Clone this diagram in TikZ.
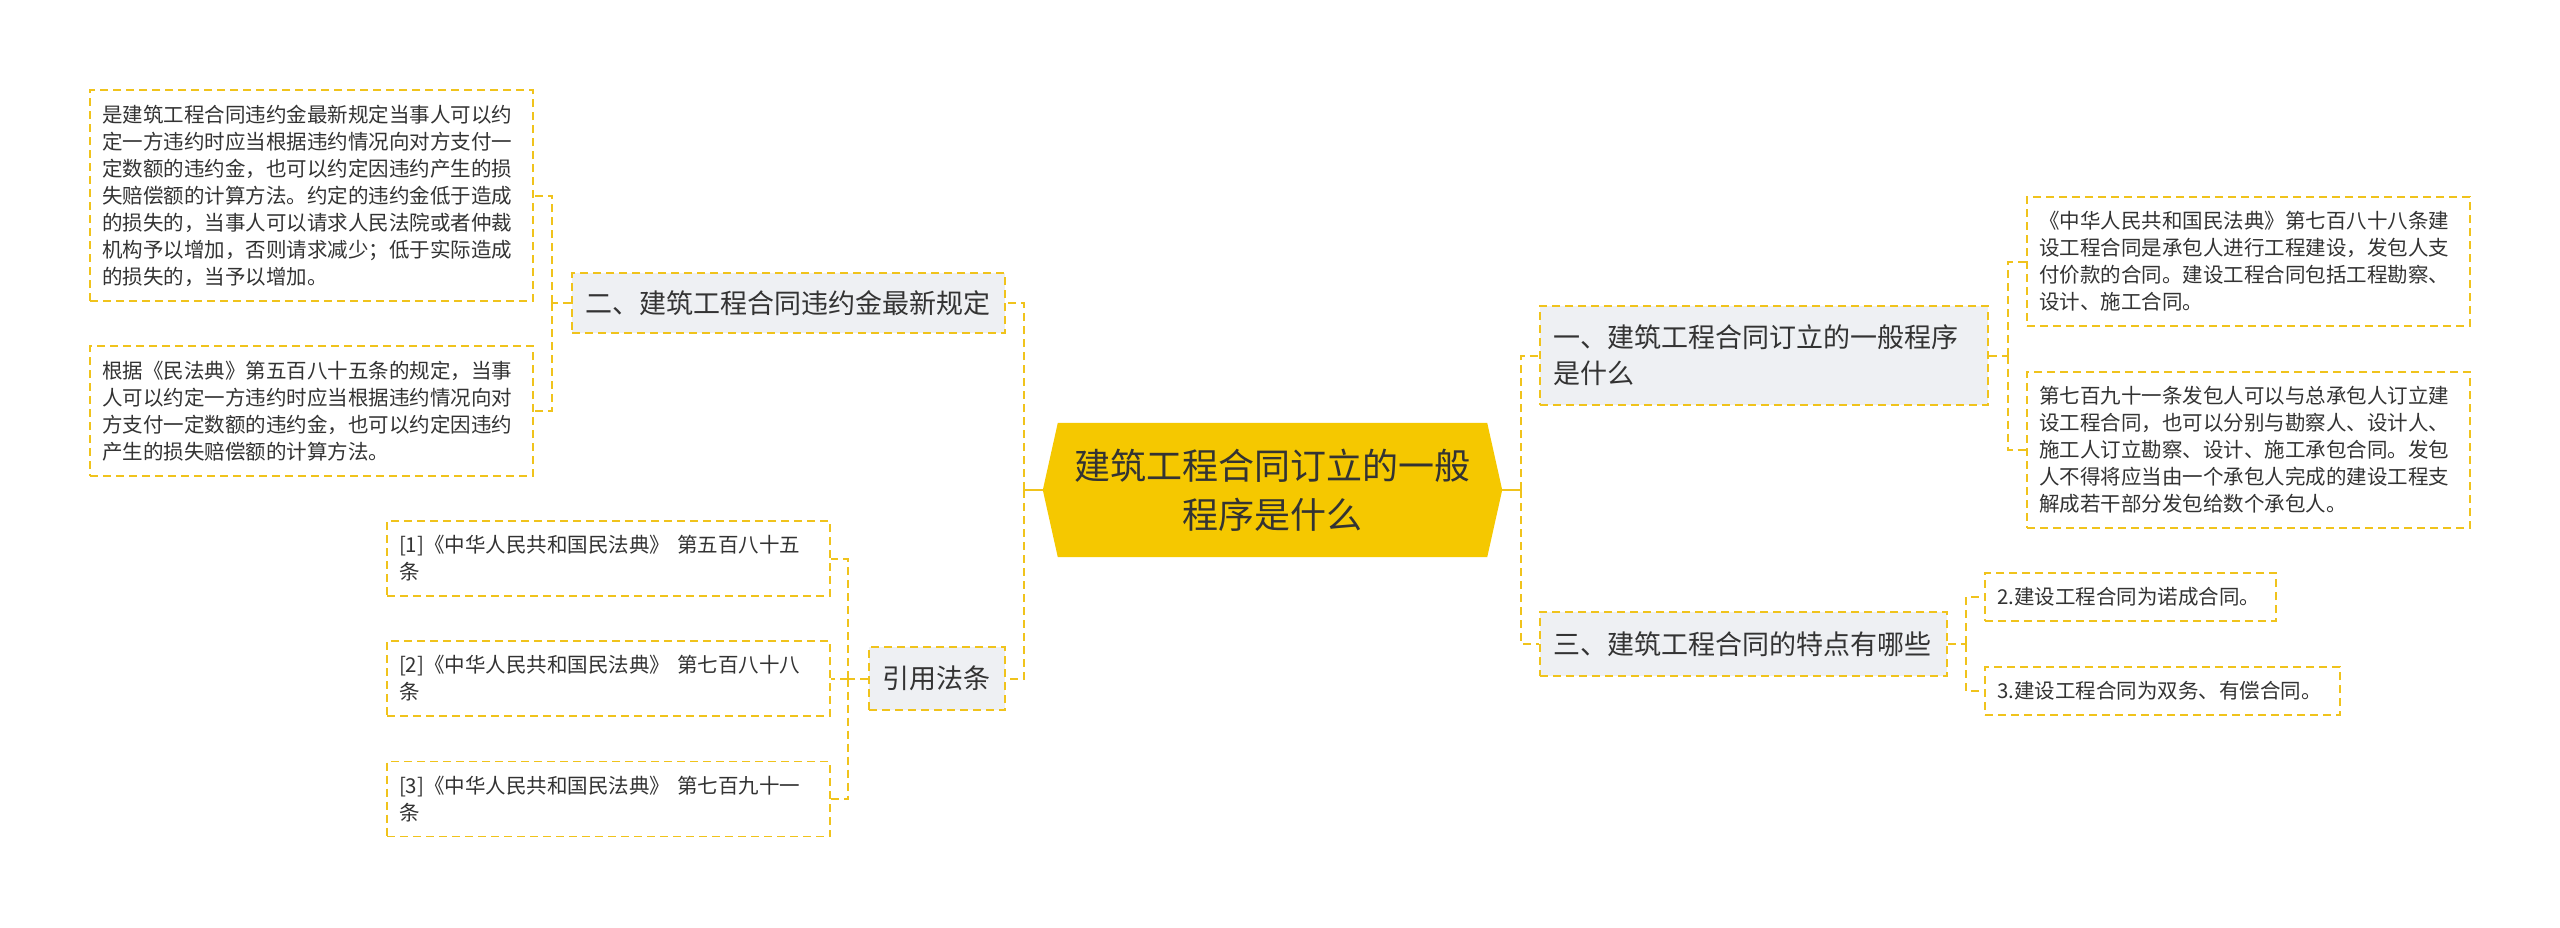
\documentclass[tikz,border=0pt]{standalone}
\usepackage{fontspec}
\setmainfont{Noto Sans CJK SC}
\usetikzlibrary{backgrounds}
\definecolor{gold}{HTML}{F0C31C}
\definecolor{rootgold}{HTML}{F5C800}
\definecolor{boxgray}{HTML}{EEF0F3}
\definecolor{txt}{HTML}{333333}
\tikzset{
  box/.style={draw=gold, line width=1.8pt, dash pattern=on 8pt off 5pt, inner xsep=12pt, inner ysep=0pt, align=left, text=txt},
  leaf/.style={box, fill=white, font=\fontsize{20.5}{27}\selectfont},
  branch/.style={box, fill=boxgray, inner xsep=13pt, font=\fontsize{27}{36}\selectfont},
  conn/.style={draw=gold, line width=2pt, dash pattern=on 8pt off 5pt},
  rootline/.style={draw=gold, line width=2.5pt},
}
\begin{document}
\begin{tikzpicture}[x=1pt,y=-1pt]
\useasboundingbox (0,0) rectangle (2560,927);

% root
\node[font=\fontsize{36}{49}\selectfont, text=txt, align=center, minimum width=459pt, minimum height=134pt, inner sep=0pt] (root) at (1272.5,490) {建筑工程合同订立的一般\\程序是什么};
\begin{pgfonlayer}{background}
\fill[white] (0,0) rectangle (2560,927);
\fill[rootgold] (root.west) -- ([xshift=15pt]root.north west) -- ([xshift=-15pt]root.north east) -- (root.east) -- ([xshift=-15pt]root.south east) -- ([xshift=15pt]root.south west) -- cycle;
\end{pgfonlayer}

% branches
\node[branch, text width=407pt, minimum height=60pt] (b2) at (788.5,303) {二、建筑工程合同违约金最新规定};
\node[branch, text width=110pt, minimum height=63pt] (b4) at (937,678.5) {引用法条};
\node[branch, text width=422pt, minimum height=99pt] (b1) at (1764,355.5) {一、建筑工程合同订立的一般程序\\是什么};
\node[branch, text width=381pt, minimum height=64pt] (b3) at (1743.5,644) {三、建筑工程合同的特点有哪些};

% left leaves
\node[leaf, text width=419pt, minimum height=211pt] (L1) at (311.5,195.5) {是建筑工程合同违约金最新规定当事人可以约\\定一方违约时应当根据违约情况向对方支付一\\定数额的违约金，也可以约定因违约产生的损\\失赔偿额的计算方法。约定的违约金低于造成\\的损失的，当事人可以请求人民法院或者仲裁\\机构予以增加，否则请求减少；低于实际造成\\的损失的，当予以增加。};
\node[leaf, text width=419pt, minimum height=130pt] (L2) at (311.5,411) {根据《民法典》第五百八十五条的规定，当事\\人可以约定一方违约时应当根据违约情况向对\\方支付一定数额的违约金，也可以约定因违约\\产生的损失赔偿额的计算方法。};

\node[leaf, text width=419pt, minimum height=75pt] (C1) at (608.5,558.5) {[1]《中华人民共和国民法典》 第五百八十五\\条};
\node[leaf, text width=419pt, minimum height=75pt] (C2) at (608.5,678.5) {[2]《中华人民共和国民法典》 第七百八十八\\条};
\node[leaf, text width=419pt, minimum height=75pt] (C3) at (608.5,799) {[3]《中华人民共和国民法典》 第七百九十一\\条};

% right leaves
\node[leaf, text width=419pt, minimum height=129pt] (R1) at (2248.5,261.5) {《中华人民共和国民法典》第七百八十八条建\\设工程合同是承包人进行工程建设，发包人支\\付价款的合同。建设工程合同包括工程勘察、\\设计、施工合同。};
\node[leaf, text width=419pt, minimum height=156pt] (R2) at (2248.5,450) {第七百九十一条发包人可以与总承包人订立建\\设工程合同，也可以分别与勘察人、设计人、\\施工人订立勘察、设计、施工承包合同。发包\\人不得将应当由一个承包人完成的建设工程支\\解成若干部分发包给数个承包人。};

\node[leaf, text width=267pt, minimum height=48pt] (S1) at (2130.5,597) {2.建设工程合同为诺成合同。};
\node[leaf, text width=331pt, minimum height=48pt] (S2) at (2162.5,691) {3.建设工程合同为双务、有偿合同。};

% junctions
\coordinate (jL) at (1024,490);
\coordinate (jR) at (1521,490);
\coordinate (j2) at (552,303);
\coordinate (j4) at (848,678.5);
\coordinate (j1) at (2008,355.5);
\coordinate (j3) at (1966,644);

% connectors
\draw[rootline] (root.west) -- (jL);
\draw[rootline] (root.east) -- (jR);
\draw[conn] (jL) |- (b2.east);
\draw[conn] (jL) |- (b4.east);
\draw[conn] (jR) |- (b1.west);
\draw[conn] (jR) |- (b3.west);

\draw[conn] (b2.west) -- (j2);
\draw[conn] (j2) |- (L1.east);
\draw[conn] (j2) |- (L2.east);

\draw[conn] (b4.west) -- (j4);
\draw[conn] (j4) |- (C1.east);
\draw[conn] (j4) |- (C2.east);
\draw[conn] (j4) |- (C3.east);

\draw[conn] (b1.east) -- (j1);
\draw[conn] (j1) |- (R1.west);
\draw[conn] (j1) |- (R2.west);

\draw[conn] (b3.east) -- (j3);
\draw[conn] (j3) |- (S1.west);
\draw[conn] (j3) |- (S2.west);
\end{tikzpicture}
\end{document}
